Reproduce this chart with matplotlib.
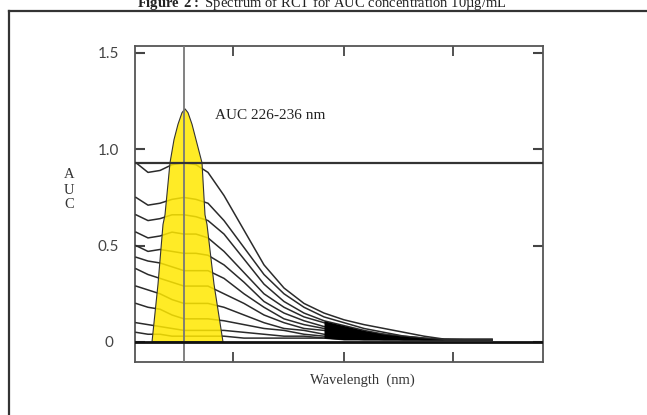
import matplotlib
matplotlib.use("Agg")
import matplotlib.pyplot as plt
from matplotlib.lines import Line2D
import numpy as np

# wavelength grid (nm) and absorbance of the 11 spectra (top to bottom)
wavelength = [218, 221, 224, 227, 230, 233, 236, 240, 245, 250, 255,
              260, 265, 270, 275, 280, 285, 290, 295, 300, 307]

abs_c1 = [0.93, 0.88, 0.89, 0.92, 0.93, 0.92, 0.88, 0.76, 0.58, 0.40, 0.28,
          0.20, 0.15, 0.115, 0.09, 0.07, 0.05, 0.03, 0.015, 0.012, 0.012]
abs_c2 = [0.75, 0.71, 0.72, 0.74, 0.75, 0.74, 0.72, 0.63, 0.49, 0.35, 0.25,
          0.18, 0.13, 0.10, 0.07, 0.05, 0.03, 0.02, 0.012, 0.012, 0.012]
abs_c3 = [0.66, 0.63, 0.64, 0.66, 0.66, 0.65, 0.63, 0.56, 0.43, 0.30, 0.21,
          0.15, 0.11, 0.085, 0.06, 0.04, 0.03, 0.02, 0.012, 0.012, 0.012]
abs_c4 = [0.57, 0.54, 0.55, 0.57, 0.56, 0.56, 0.54, 0.47, 0.36, 0.25, 0.18,
          0.13, 0.10, 0.07, 0.05, 0.04, 0.02, 0.012, 0.012, 0.012, 0.012]
abs_c5 = [0.50, 0.47, 0.48, 0.47, 0.46, 0.46, 0.45, 0.40, 0.31, 0.21, 0.15,
          0.11, 0.08, 0.06, 0.05, 0.03, 0.02, 0.012, 0.012, 0.012, 0.012]
abs_c6 = [0.44, 0.42, 0.41, 0.39, 0.37, 0.37, 0.37, 0.33, 0.25, 0.18, 0.12,
          0.09, 0.07, 0.05, 0.04, 0.03, 0.02, 0.012, 0.012, 0.012, 0.012]
abs_c7 = [0.38, 0.35, 0.33, 0.31, 0.29, 0.29, 0.29, 0.25, 0.20, 0.14, 0.10,
          0.07, 0.06, 0.04, 0.03, 0.02, 0.012, 0.012, 0.012, 0.012, 0.012]
abs_c8 = [0.29, 0.27, 0.25, 0.22, 0.20, 0.20, 0.20, 0.18, 0.14, 0.10, 0.07,
          0.06, 0.04, 0.03, 0.02, 0.02, 0.012, 0.012, 0.012, 0.012, 0.012]
abs_c9 = [0.20, 0.18, 0.17, 0.14, 0.12, 0.12, 0.12, 0.11, 0.09, 0.07, 0.06,
          0.04, 0.03, 0.03, 0.02, 0.012, 0.012, 0.012, 0.012, 0.012, 0.012]
abs_c10 = [0.10, 0.09, 0.08, 0.07, 0.06, 0.06, 0.06, 0.06, 0.05, 0.04, 0.03,
           0.03, 0.02, 0.02, 0.012, 0.012, 0.012, 0.012, 0.012, 0.012, 0.012]
abs_c11 = [0.05, 0.04, 0.04, 0.03, 0.03, 0.03, 0.03, 0.03, 0.02, 0.02, 0.02,
           0.02, 0.02, 0.012, 0.012, 0.012, 0.012, 0.012, 0.012, 0.012, 0.012]
spectra = [abs_c1, abs_c2, abs_c3, abs_c4, abs_c5, abs_c6,
           abs_c7, abs_c8, abs_c9, abs_c10, abs_c11]

# yellow AUC peak outline
auc_wl = [222.0, 223.5, 224.75, 225.25, 226.5, 227.5, 228.5, 229.5, 230.25,
          231.0, 232.0, 233.25, 234.5, 235.25, 235.75, 237.5, 239.75]
auc_abs = [0.0, 0.30, 0.61, 0.66, 0.93, 1.05, 1.13, 1.19, 1.21,
           1.19, 1.13, 1.03, 0.93, 0.66, 0.61, 0.30, 0.0]

baseline_top = 0.929
peak_wl = 230
dense_from = 265
yticks = [0, 0.5, 1.0, 1.5]
ytick_labels = ["0", "0.5", "1.0", "1.5"]
xticks = [242.25, 270, 297.25]

plt.rcParams["mathtext.fontset"] = "custom"
plt.rcParams["mathtext.bf"] = "Liberation Serif:bold"
plt.rcParams["mathtext.rm"] = "Liberation Serif"

W, H = 647, 415
fig = plt.figure(figsize=(W / 100, H / 100), dpi=100)
ax = fig.add_axes([135 / W, (H - 362) / H, 408 / W, 316 / H])

wl = np.array(wavelength)
for s in spectra:
    ax.plot(wl, s, color="#2b2b2b", lw=1.1, zorder=3)
# dense overlapping region near the baseline
mask = wl >= dense_from
ax.fill_between(wl[mask], np.array(abs_c11)[mask], np.array(abs_c3)[mask],
                color="black", lw=0, zorder=3)

ax.fill(auc_wl, auc_abs, facecolor=(1, 0.91, 0, 0.85), edgecolor="#333333",
        lw=0.8, zorder=4)
ax.axvline(peak_wl, color="#777777", lw=1.3, zorder=5)
ax.axhline(baseline_top, color="#333333", lw=1.6, zorder=5)
ax.axhline(0, color="#111111", lw=2.0, zorder=5)

ax.set_xlim(217.75, 319.75)
ax.set_ylim(-0.104, 1.536)
ax.set_xticks(xticks)
ax.set_xticklabels([])
ax.set_yticks(yticks)
ax.set_yticklabels(ytick_labels, fontfamily="Lato", fontsize=11, color="#444444",
                   ha="center")
ax.tick_params(axis="x", direction="in", length=7, width=1.3, top=True,
               color="#444444")
ax.tick_params(axis="y", direction="in", length=7, width=1.5, right=True,
               color="#444444", pad=19)
for sp in ax.spines.values():
    sp.set_color("#555555")
    sp.set_linewidth(1.3)

ax.text(0.196, 0.78, "AUC 226-236 nm", transform=ax.transAxes,
        fontfamily="Liberation Serif", fontsize=11, color="#222222",
        va="center", ha="left")
ax.text((362 - 135) / 408, -18 / 316, "Wavelength  (nm)", transform=ax.transAxes,
        fontfamily="Liberation Serif", fontsize=10.5, color="#333333",
        ha="center", va="center")
fig.text(69 / W, 1 - 190 / H, "A\nU\nC", fontfamily="Liberation Serif",
         fontsize=10.5, color="#333333", ha="center", va="center",
         linespacing=1.2)

fig.text(0.498, 1 - 6.5 / H,
         r"$\bf{Figure\ 2:}$ Spectrum of RCT for AUC concentration 10µg/mL",
         fontfamily="Liberation Serif", fontsize=10.5, color="#222222",
         ha="center", va="baseline")

# outer frame (left and top edges visible)
fig.add_artist(Line2D([8.5 / W, 8.5 / W], [0, 1 - 11 / H],
                      transform=fig.transFigure, color="#333333", lw=1.6))
fig.add_artist(Line2D([8.5 / W, 1], [1 - 11 / H, 1 - 11 / H],
                      transform=fig.transFigure, color="#333333", lw=1.6))

fig.savefig("out.png", dpi=100)
